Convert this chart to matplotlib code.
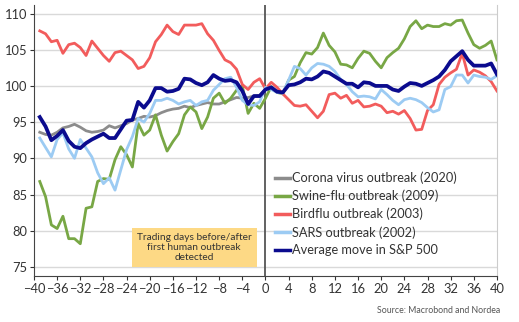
import matplotlib.pyplot as plt
import numpy as np

days = np.arange(-39, 41)

corona = [93.6, 93.3, 93.2, 93.6, 94.2, 94.4, 94.7, 94.3, 93.8, 93.6,
          93.7, 93.9, 94.5, 94.2, 94.5, 94.8, 95.3, 95.5, 95.8, 95.7,
          95.9, 96.3, 96.6, 96.8, 96.9, 97.2, 97.0, 97.3, 97.5, 97.7,
          97.5, 97.5, 97.8, 98.1, 98.4, 98.3, 98.4, 98.6, 98.7, 99.5] + [np.nan] * 40

swine = [86.8, 84.7, 80.8, 80.3, 82.0, 78.9, 78.9, 78.2, 83.1, 83.3,
         86.8, 87.2, 87.1, 89.8, 91.6, 90.5, 88.8, 94.8, 93.2, 93.9,
         96.0, 93.2, 91.0, 92.3, 93.4, 96.0, 97.1, 96.4, 94.1, 95.7,
         98.3, 99.0, 97.6, 98.3, 99.4, 100.0, 96.2, 97.6, 96.9, 98.3,
         99.9, 99.1, 98.9, 100.8, 101.3, 103.2, 104.6, 104.4, 105.3, 107.3,
         105.6, 104.7, 103.0, 102.9, 102.5, 103.8, 104.8, 104.5, 103.4, 102.5,
         103.9, 104.6, 105.2, 106.5, 108.2, 109.0, 107.9, 108.4, 108.2, 108.2,
         108.6, 108.4, 109.0, 109.1, 107.3, 105.7, 105.2, 105.6, 106.2, 103.6]

birdflu = [107.6, 107.2, 106.1, 106.3, 104.5, 105.7, 105.9, 105.3, 104.2, 106.2,
           105.2, 104.2, 103.4, 104.6, 104.8, 104.2, 103.6, 102.4, 102.7, 103.9,
           106.1, 107.1, 108.4, 107.5, 107.1, 108.4, 108.4, 108.4, 108.6, 107.2,
           106.3, 104.9, 103.6, 103.2, 102.3, 100.2, 99.5, 100.5, 101.0, 99.6,
           100.5, 99.8, 98.9, 98.1, 97.3, 97.2, 97.4, 96.5, 95.6, 96.5,
           98.8, 99.0, 98.3, 98.7, 97.6, 98.0, 97.1, 97.2, 97.5, 97.2,
           96.3, 96.5, 96.1, 96.6, 95.5, 93.9, 94.0, 96.6, 97.4, 100.2,
           101.2, 101.8, 102.3, 104.5, 101.5, 102.2, 101.9, 101.4, 100.6, 99.3]

sars = [92.8, 91.5, 90.2, 92.6, 93.5, 91.3, 90.0, 92.6, 91.4, 90.2,
        88.0, 86.5, 87.3, 85.6, 88.4, 91.2, 93.0, 95.5, 95.0, 96.2,
        98.0, 98.0, 98.3, 98.0, 97.5, 97.8, 98.0, 97.3, 97.8, 98.0,
        99.4, 100.2, 101.0, 101.2, 99.8, 98.0, 97.4, 97.3, 97.8, 99.8,
        99.5, 99.1, 99.0, 100.8, 102.7, 102.4, 101.5, 102.5, 103.1, 103.0,
        102.7, 102.0, 100.9, 100.2, 99.2, 98.5, 98.6, 98.5, 98.2, 99.5,
        98.8, 98.0, 97.4, 98.1, 98.3, 98.1, 97.7, 97.0, 96.4, 96.7,
        99.5, 99.9, 101.5, 101.5, 100.4, 101.5, 101.3, 101.2, 100.9, 101.4]

average = [95.7, 94.4, 92.5, 93.1, 93.9, 92.4, 91.6, 91.4, 92.1, 92.6,
           93.0, 93.4, 92.8, 92.8, 94.0, 95.2, 95.3, 97.8, 97.0, 98.0,
           99.7, 99.7, 99.2, 99.3, 99.6, 101.0, 100.9, 100.4, 100.1, 100.5,
           101.5, 101.0, 100.7, 100.8, 100.5, 99.3, 97.5, 98.6, 98.6, 99.5,
           99.8, 99.2, 99.1, 100.1, 100.2, 100.5, 101.0, 100.9, 101.3, 102.0,
           101.8, 101.3, 100.8, 100.3, 100.3, 99.8, 100.5, 100.4, 100.0, 100.0,
           100.0, 99.5, 99.3, 99.9, 100.4, 100.3, 100.0, 100.4, 100.8, 101.3,
           102.2, 103.4, 104.1, 104.8, 103.6, 102.8, 102.8, 102.8, 103.1, 101.6]

labels = ['Corona virus outbreak (2020)', 'Swine-flu outbreak (2009)',
          'Birdflu outbreak (2003)', 'SARS outbreak (2002)',
          'Average move in S&P 500']
colors = ['#8c8c8c', '#78a745', '#f25c5c', '#9ccbf3', '#0b0b8e']
widths = [2.0, 2.0, 2.0, 2.0, 2.7]

x_ticks = np.arange(-40, 41, 4)
y_ticks = np.arange(75, 111, 5)


def main():
    plt.rcParams['font.family'] = ['Lato', 'DejaVu Sans']
    fig = plt.figure(figsize=(5.19, 3.22), dpi=100)
    ax = fig.add_axes([0.0655, 0.143, 0.892, 0.842])

    for y in y_ticks:
        ax.axhline(y, color='#d9d9d9', lw=1.0, zorder=0)
    ax.axvline(0, color='#555555', lw=1.3, zorder=1)

    series = [corona, swine, birdflu, sars, average]
    handles = []
    for vals, lab, col, w in zip(series, labels, colors, widths):
        h, = ax.plot(days, vals, color=col, lw=w, label=lab, zorder=3)
        handles.append(h)
    # average drawn on top
    handles[-1].set_zorder(4)

    ax.set_xlim(-40, 40)
    ax.set_ylim(73.75, 111.2)
    ax.set_xticks(x_ticks)
    ax.set_yticks(y_ticks)
    ax.tick_params(labelsize=9.3, colors='#333333', length=3, width=0.8, pad=2)

    ax.spines['top'].set_visible(False)
    ax.spines['right'].set_color('#cccccc')
    ax.spines['left'].set_color('#444444')
    ax.spines['bottom'].set_color('#444444')

    leg = ax.legend(handles=handles, loc='upper left', bbox_to_anchor=(0.52, 0.384),
                    frameon=False, fontsize=9.2, handlelength=1.2, handletextpad=0.15,
                    labelspacing=0.43, borderaxespad=0, borderpad=0)
    for t in leg.get_texts():
        t.set_color('#333333')
    for lh in leg.get_lines():
        lh.set_linewidth(2.5)

    ax.text(-12.3, 77.7, 'Trading days before/after\nfirst human outbreak\ndetected',
            ha='center', va='center', fontsize=7.3, color='#333333', linespacing=1.1,
            bbox=dict(boxstyle='square,pad=0.5', fc='#fdd985', ec='none'), zorder=5)

    fig.text(0.963, 0.035, 'Source: Macrobond and Nordea', ha='right', va='center',
             fontsize=6.3, color='#555555')

    fig.savefig('out.png', dpi=100)


if __name__ == '__main__':
    main()
